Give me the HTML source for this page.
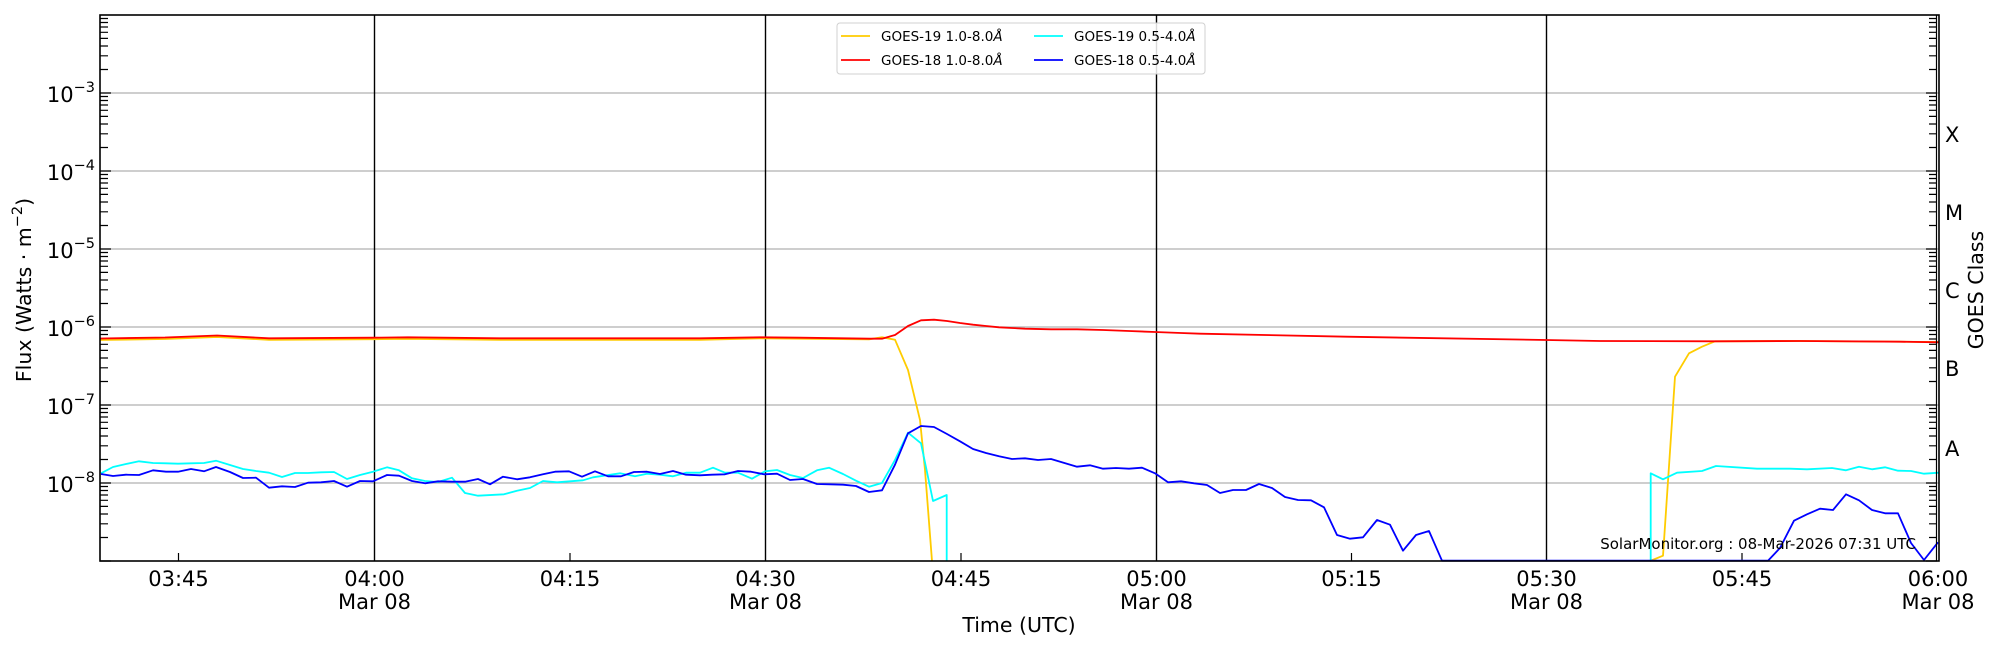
<!DOCTYPE html>
<html><head><meta charset="utf-8"><style>
html,body{margin:0;padding:0;background:#fff;}
svg{display:block;font-family:"DejaVu Sans","Liberation Sans",sans-serif;}
</style></head><body>
<svg width="2000" height="650" viewBox="0 0 2000 650" xmlns="http://www.w3.org/2000/svg">
<defs>
<path id="mt" d="M0 -23.5h8M0 -37.2h8M0 -47h8M0 -54.6h8M0 -60.7h8M0 -66h8M0 -70.5h8M0 -74.5h8M0 0h11" stroke="#000" stroke-width="1.2" fill="none"/>
<path id="mtr" d="M0 -23.5h-8M0 -37.2h-8M0 -47h-8M0 -54.6h-8M0 -60.7h-8M0 -66h-8M0 -70.5h-8M0 -74.5h-8M0 0h-11" stroke="#000" stroke-width="1.2" fill="none"/>
</defs>
<g stroke="#b0b0b0" stroke-width="1.3">
<line x1="100" x2="1939" y1="93" y2="93"/><line x1="100" x2="1939" y1="171" y2="171"/>
<line x1="100" x2="1939" y1="249" y2="249"/><line x1="100" x2="1939" y1="327" y2="327"/>
<line x1="100" x2="1939" y1="405" y2="405"/><line x1="100" x2="1939" y1="483" y2="483"/>
</g>
<g stroke="#000" stroke-width="1.4">
<line x1="374.5" x2="374.5" y1="15" y2="561"/><line x1="765.5" x2="765.5" y1="15" y2="561"/>
<line x1="1156.5" x2="1156.5" y1="15" y2="561"/><line x1="1546.5" x2="1546.5" y1="15" y2="561"/>
</g>
<g>
<use href="#mt" x="100" y="561"/><use href="#mt" x="100" y="483"/><use href="#mt" x="100" y="405"/><use href="#mt" x="100" y="327"/><use href="#mt" x="100" y="249"/><use href="#mt" x="100" y="171"/><use href="#mt" x="100" y="93"/>
<use href="#mtr" x="1937" y="561"/><use href="#mtr" x="1937" y="483"/><use href="#mtr" x="1937" y="405"/><use href="#mtr" x="1937" y="327"/><use href="#mtr" x="1937" y="249"/><use href="#mtr" x="1937" y="171"/><use href="#mtr" x="1937" y="93"/>
</g>
<g stroke="#000" stroke-width="1.2">
<line x1="178.5" x2="178.5" y1="561" y2="553"/><line x1="570" x2="570" y1="561" y2="553"/>
<line x1="961" x2="961" y1="561" y2="553"/><line x1="1351.5" x2="1351.5" y1="561" y2="553"/>
<line x1="1742" x2="1742" y1="561" y2="553"/>
</g>
<g fill="none" stroke-width="1.8" stroke-linejoin="round">
<polyline stroke="#ffcc00" points="100,340 165,339 217,337 269,339.8 374,339.2 408,338.8 500,339.8 700,339.8 760,338.3 869,339.3 882,337.3 895,339.7 908,370 920,420 925,470 932,561"/>
<polyline stroke="#ffcc00" points="1650,561 1663,555.7 1675,376.7 1689,353.3 1702,346.7 1715,341.3 1800,341 1939,342"/>
<polyline stroke="#ff0000" points="100,338.5 165,337.5 217,335.5 269,338.3 374,337.7 408,337.3 500,338.3 700,338.3 760,337.3 800,337.7 870,338.7 882,338.7 895,335 908,326 921,320.3 934,319.7 947,321 960,323 973,324.7 986,326 999,327.3 1012,328 1025,328.7 1051,329.3 1077,329.3 1103,330 1129,331 1155,332 1181,333 1200,333.7 1346,336.7 1546,340 1600,341 1715,341.3 1800,341 1900,341.7 1939,342.3"/>
<polyline stroke="#00ffff" points="101,473.3 113,467 126,464 139,461.3 153,463 166,463.3 178,463.7 191,463.3 204,463 216,460.7 230,465 243,469 256,471 269,472.7 282,477 295,473 308,473 321,472.3 334,472 347,479 360,475 373,471.7 387,467.3 399,470.3 412,478.3 425,481 438,482 452,477.7 465,493 478,495.7 504,494.3 517,490.7 530,488 543,481 557,482.3 583,480.3 593,477.3 620,473.3 635,476.3 647,473.7 660,474.7 673,476.3 686,472.7 700,472.7 713,467.7 725,472.7 738,472.7 752,478.7 765,471.3 777,470 790,475 803,478 817,470.3 829,467.7 843,474 856,480.7 869,486.7 882,483 895,460 908,432.7 921,443.3 933,501 946.7,495 946.7,561"/>
<polyline stroke="#00ffff" points="1650.7,561 1650.7,473.3 1663,479.3 1677,472.7 1702,471 1716,466 1757,468.7 1790,468.7 1807,469.3 1832,468 1846,470.3 1859,466.7 1872,469.3 1885,467.3 1898,470.7 1911,471 1924,473.7 1939,472.7"/>
<polyline stroke="#0000ff" points="101,474 113,476 126,474.7 139,475 153,470.3 166,471.7 178,471.7 191,469 204,471.3 216,467 230,472 243,478 256,477.7 269,487.7 282,486.3 295,487 308,482.7 321,482.3 334,481 347,486.7 360,481 373,481.3 387,475 399,475.7 412,481 425,483.3 438,481.3 452,481.7 465,481.7 478,479 490,484.3 503,476.7 517,479.3 530,477.3 543,474.3 555,471.7 569,471.3 582,476.7 595,471.3 608,476.3 621,476.3 634,472 647,471.7 660,474 673,471 686,474.7 700,475.3 712,474.7 725,474.3 738,471 751,471.7 764,474.3 777,473.7 790,480 803,479 817,484 830,484.3 843,484.7 856,486 869,492 882,490.3 895,464.7 908,433.3 921,426 934,427 947,434 960,441.3 973,449 986,453 999,456.3 1012,459 1025,458.3 1038,460 1051,459 1077,466.7 1090,465.3 1103,468.7 1116,468 1129,468.7 1142,467.7 1155,473.3 1168,482.3 1181,481.3 1194,483.3 1207,485 1220,493 1233,490 1246,490 1259,484 1272,488 1285,497 1298,500 1311,500.3 1324,507.3 1337,535 1350,538.7 1363,537.3 1377,520 1390,524.7 1403,550.7 1416,535 1429,531 1442,560.7 1768,560.7 1780,548 1794,520.7 1807,514.3 1820,508.7 1833,510 1846,494.3 1859,500.3 1872,510 1885,513.3 1898,513.3 1911,543 1924,560 1938,542.3"/>
</g>
<rect x="100" y="15" width="1839" height="546" fill="none" stroke="#000" stroke-width="1.6"/>
<line x1="1936.5" x2="1936.5" y1="15" y2="561" stroke="#000" stroke-width="1.2"/>
<rect x="837" y="23" width="368" height="51" rx="3" fill="#fff" fill-opacity="0.85" stroke="#d0d0d0" stroke-width="1"/>
<g stroke-width="1.8">
<line x1="841" x2="870" y1="36" y2="36" stroke="#ffcc00"/><line x1="841" x2="870" y1="60" y2="60" stroke="#ff0000"/>
<line x1="1034" x2="1063" y1="36" y2="36" stroke="#00ffff"/><line x1="1034" x2="1063" y1="60" y2="60" stroke="#0000ff"/>
</g>
<g font-size="13.5" fill="#000">
<text x="881" y="41">GOES-19 1.0-8.0<tspan font-style="italic">Å</tspan></text>
<text x="881" y="65">GOES-18 1.0-8.0<tspan font-style="italic">Å</tspan></text>
<text x="1074" y="41">GOES-19 0.5-4.0<tspan font-style="italic">Å</tspan></text>
<text x="1074" y="65">GOES-18 0.5-4.0<tspan font-style="italic">Å</tspan></text>
</g>
<g font-size="21" fill="#000" text-anchor="end">
<text x="95" y="102">10<tspan font-size="14.5" dy="-10">−3</tspan></text>
<text x="95" y="180">10<tspan font-size="14.5" dy="-10">−4</tspan></text>
<text x="95" y="258">10<tspan font-size="14.5" dy="-10">−5</tspan></text>
<text x="95" y="336">10<tspan font-size="14.5" dy="-10">−6</tspan></text>
<text x="95" y="414">10<tspan font-size="14.5" dy="-10">−7</tspan></text>
<text x="95" y="492">10<tspan font-size="14.5" dy="-10">−8</tspan></text>
</g>
<g font-size="21" fill="#000" text-anchor="middle">
<text x="178.5" y="586">03:45</text>
<text x="374.5" y="586">04:00</text><text x="374.5" y="609">Mar 08</text>
<text x="570" y="586">04:15</text>
<text x="765.5" y="586">04:30</text><text x="765.5" y="609">Mar 08</text>
<text x="961" y="586">04:45</text>
<text x="1156.5" y="586">05:00</text><text x="1156.5" y="609">Mar 08</text>
<text x="1351.5" y="586">05:15</text>
<text x="1546.5" y="586">05:30</text><text x="1546.5" y="609">Mar 08</text>
<text x="1742" y="586">05:45</text>
<text x="1938" y="586">06:00</text><text x="1938" y="609">Mar 08</text>
</g>
<text x="1019" y="632" font-size="20.5" text-anchor="middle">Time (UTC)</text>
<text transform="translate(31,290) rotate(-90)" font-size="20.5" text-anchor="middle">Flux (Watts · m<tspan font-size="14.5" dy="-9">−2</tspan><tspan dy="9">)</tspan></text>
<g font-size="21" fill="#000">
<text x="1945" y="142">X</text><text x="1945" y="220">M</text>
<text x="1945" y="298">C</text><text x="1945" y="376">B</text><text x="1945" y="456">A</text>
</g>
<text transform="translate(1983,290) rotate(-90)" font-size="20.5" text-anchor="middle">GOES Class</text>
<text x="1916" y="549" font-size="15" text-anchor="end">SolarMonitor.org : 08-Mar-2026 07:31 UTC</text>
</svg>
</body></html>
